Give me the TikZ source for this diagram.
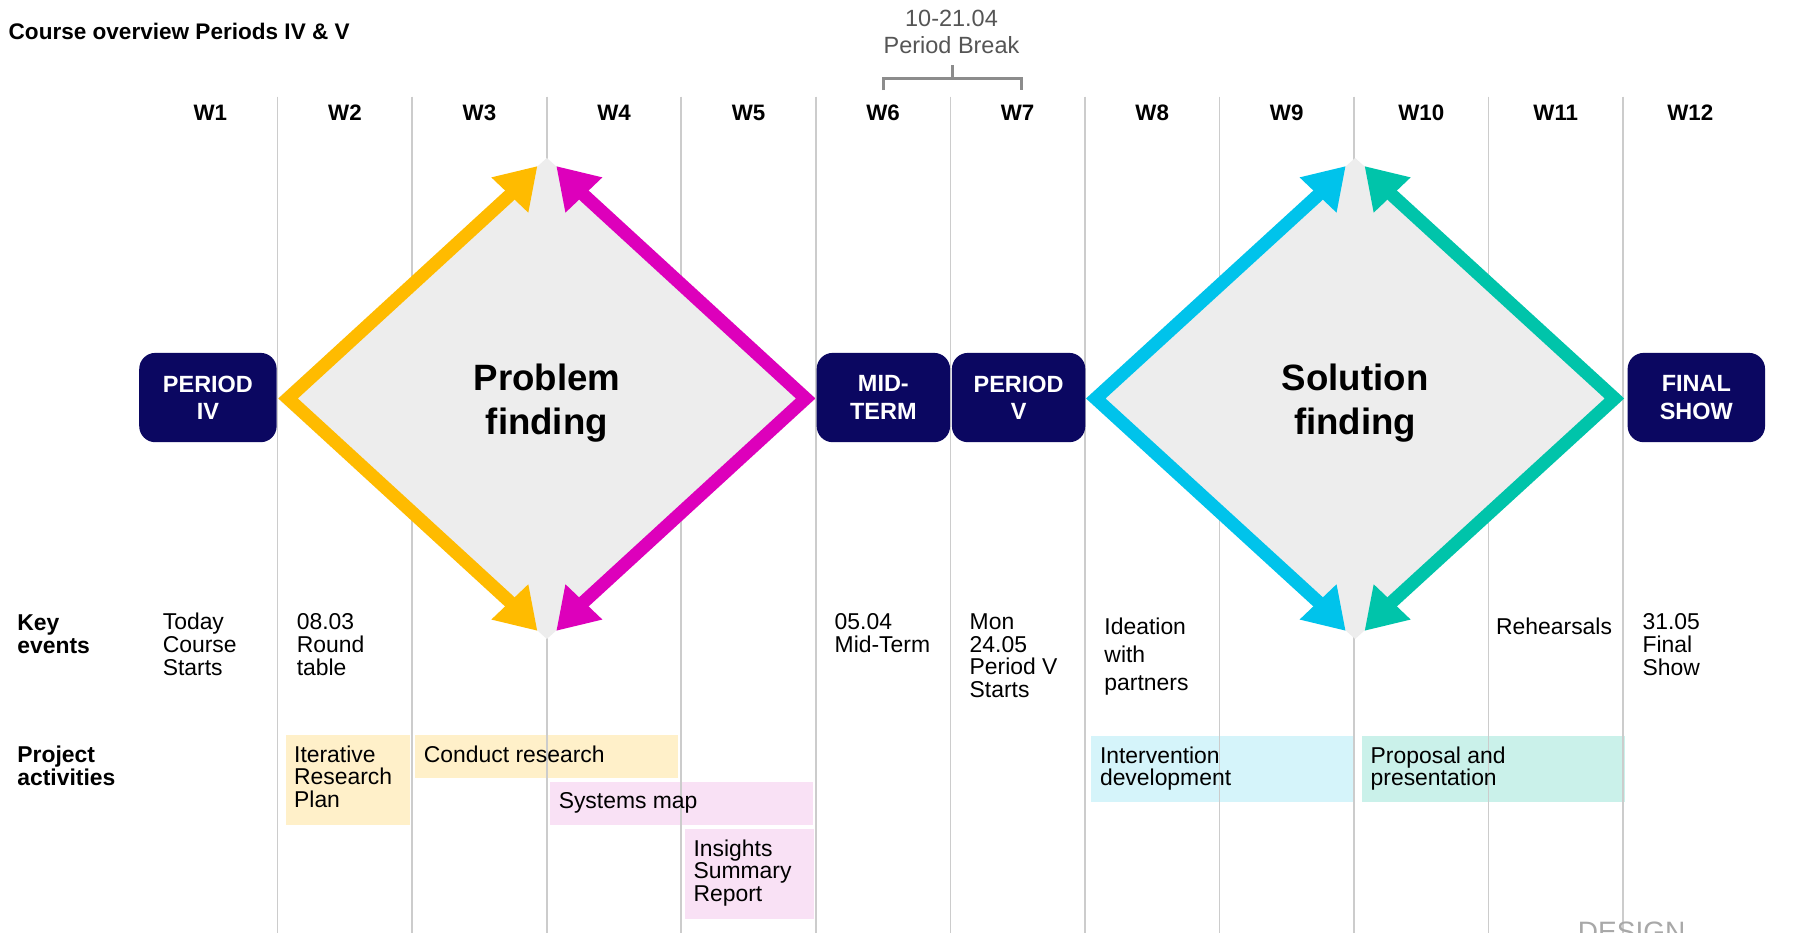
\documentclass[tikz,border=0pt]{standalone}
\usepackage{fontspec}
\setmainfont{Liberation Sans}
\usetikzlibrary{arrows.meta,calc}
\definecolor{navy}{HTML}{0B0761}
\definecolor{gridgray}{HTML}{CCCCCC}
\definecolor{diamondgray}{HTML}{EDEDED}
\definecolor{ayellow}{HTML}{FFBB00}
\definecolor{amagenta}{HTML}{DD00BB}
\definecolor{acyan}{HTML}{00C3EB}
\definecolor{ateal}{HTML}{00C4AA}
\definecolor{byellow}{HTML}{FFF0C9}
\definecolor{bpink}{HTML}{F9E1F5}
\definecolor{bcyan}{HTML}{D5F4FA}
\definecolor{bteal}{HTML}{CAF1EA}
\definecolor{breakgray}{HTML}{555555}
\definecolor{bracketgray}{HTML}{8C8C8C}
\definecolor{designgray}{HTML}{A8A8A8}
\tikzset{
  gridline/.style={draw=gridgray, line width=1.4pt},
  wlabel/.style={font=\bfseries\fontsize{19.5}{22}\selectfont, anchor=base, inner sep=0pt},
  periodbox/.style={fill=navy, rounded corners=14pt, text=white, align=center,
    font=\bfseries\fontsize{20.5}{24}\selectfont, minimum height=78pt, inner sep=0pt},
  phase/.style={font=\bfseries\fontsize{32}{38}\selectfont, align=center, inner sep=0pt},
  evtext/.style={font=\fontsize{20}{20}\selectfont, align=left, anchor=north west, inner sep=0pt},
  rowlabel/.style={font=\bfseries\fontsize{20}{19.5}\selectfont, align=left, anchor=north west, inner sep=0pt},
  actbox/.style={anchor=north west, inner sep=0pt, draw=none},
  acttext/.style={font=\fontsize{20}{19.7}\selectfont, align=left, anchor=north west, inner sep=0pt},
  shaft/.style={line width=11.5pt, line join=miter,
    {Triangle[length=35pt,width=42pt]}-{Triangle[length=35pt,width=42pt]}},
  bracket/.style={draw=bracketgray, line width=2.3pt},
}
\begin{document}
\begin{tikzpicture}[x=1pt,y=-1pt]
\fill[white] (0,0) rectangle (1570.3,814.8);
\useasboundingbox (0,0) rectangle (1570.3,814.8);

% activity boxes (behind grid)
\node[actbox, fill=byellow, minimum width=108.3pt, minimum height=78.5pt] (b1) at (249.2,642) {};
\node[actbox, fill=byellow, minimum width=229.6pt, minimum height=37.6pt] (b2) at (362.5,642) {};
\node[actbox, fill=bpink, minimum width=229.7pt, minimum height=37.5pt] (b3) at (480.3,683) {};
\node[actbox, fill=bpink, minimum width=113pt, minimum height=78.6pt] (b4) at (598,724) {};
\node[actbox, fill=bcyan, minimum width=230pt, minimum height=57.2pt] (b5) at (953,642.8) {};
\node[actbox, fill=bteal, minimum width=229.3pt, minimum height=57.2pt] (b6) at (1189.4,642.8) {};

% grid
\foreach \i in {0,...,10} {
  \draw[gridline] ({242.5+117.5*\i},84.4) -- ({242.5+117.5*\i},830);
}

% week labels
\foreach \k [count=\n] in {0,...,11} {
  \node[wlabel] (w\n) at ({183.75+117.5*\k},105.4) {W\n};
}

% title
\node[font=\bfseries\fontsize{19.7}{22}\selectfont, anchor=base west, inner sep=0pt] (title) at (7.4,34.4) {Course overview Periods IV \& V};

% period break
\node[font=\fontsize{20.5}{23.3}\selectfont, text=breakgray, align=center, anchor=north, inner sep=0pt] (pbreak) at (831,8.6) {10-21.04\\Period Break};
\coordinate (brstem) at (832,56.8);
\coordinate (brmid) at (832,68.7);
\coordinate (brL) at (771.5,78.6);
\coordinate (brR) at (892.3,78.6);
\draw[bracket] (brL) |- (brmid) -| (brR);
\draw[bracket] (brmid) -- (brstem);

% diamonds
\coordinate (d1c) at (477.6,348);
\coordinate (d2c) at (1183.5,348);
\foreach \d in {d1c,d2c} {
  \fill[diamondgray] ($(\d)+(-235,0)$) -- ($(\d)+(0,-210)$) -- ($(\d)+(235,0)$) -- ($(\d)+(0,210)$) -- cycle;
}
% diamond 1 arrows
\coordinate (d1vl) at ($(d1c)+(-226,0)$);
\coordinate (d1vr) at ($(d1c)+(226,0)$);
\draw[shaft, draw=ayellow] ($(d1c)+(-8.2,-203)$) -- ($(d1c)+(-33,-177)$) -- (d1vl) -- ($(d1c)+(-33,177)$) -- ($(d1c)+(-8.2,203)$);
\draw[shaft, draw=amagenta] ($(d1c)+(8.2,-203)$) -- ($(d1c)+(33,-177)$) -- (d1vr) -- ($(d1c)+(33,177)$) -- ($(d1c)+(8.2,203)$);
% diamond 2 arrows
\coordinate (d2vl) at ($(d2c)+(-226.5,0)$);
\coordinate (d2vr) at ($(d2c)+(226.5,0)$);
\draw[shaft, draw=acyan] ($(d2c)+(-8.2,-203)$) -- ($(d2c)+(-33,-177)$) -- (d2vl) -- ($(d2c)+(-33,177)$) -- ($(d2c)+(-8.2,203)$);
\draw[shaft, draw=ateal] ($(d2c)+(8.2,-203)$) -- ($(d2c)+(33,-177)$) -- (d2vr) -- ($(d2c)+(33,177)$) -- ($(d2c)+(8.2,203)$);

\node[phase] (pf) at ($(d1c)+(0,4)$) {Problem\\finding};
\node[phase] (sf) at ($(d2c)+(0,4)$) {Solution\\finding};

% period boxes
\node[periodbox, minimum width=120pt] (p4) at (181.6,347.2) {PERIOD\\IV};
\node[periodbox, minimum width=116.5pt] (mid) at (771.5,347.2) {MID-\\TERM};
\node[periodbox, minimum width=116.5pt] (p5) at (889.6,347.2) {PERIOD\\V};
\node[periodbox, minimum width=120pt] (fin) at (1481.5,347.2) {FINAL\\SHOW};

% key events
\node[rowlabel, font=\bfseries\fontsize{20}{20}\selectfont] (keyev) at (15,536.5) {Key\\events};
\node[evtext] (ev1) at (142,535.5) {Today\\Course\\Starts};
\node[evtext] (ev2) at (259,535.5) {08.03\\Round\\table};
\node[evtext] (ev3) at (728.8,535.5) {05.04\\Mid-Term};
\node[evtext] (ev4) at (846.7,535.5) {Mon\\24.05\\Period V\\Starts};
\node[evtext, font=\fontsize{20}{24.6}\selectfont] (ev5) at (964.4,539.5) {Ideation\\with\\partners};
\node[evtext] (ev6) at (1306.5,539.5) {Rehearsals};
\node[evtext] (ev7) at (1434.4,535.5) {31.05\\Final\\Show};

% project activities
\node[rowlabel] (projact) at (15,651.5) {Project\\activities};
\node[acttext] (t1) at ($(b1.north west)+(7.5,9)$) {Iterative\\Research\\Plan};
\node[acttext] (t2) at ($(b2.north west)+(7.5,9)$) {Conduct research};
\node[acttext] (t3) at ($(b3.north west)+(7.5,9)$) {Systems map};
\node[acttext] (t4) at ($(b4.north west)+(7.5,9)$) {Insights\\Summary\\Report};
\node[acttext] (t5) at ($(b5.north west)+(7.5,9)$) {Intervention\\development};
\node[acttext] (t6) at ($(b6.north west)+(7.5,9)$) {Proposal and\\presentation};

% watermark fragment
\node[font=\fontsize{24.5}{26}\selectfont, text=designgray, anchor=north west, inner sep=0pt] (design) at (1377.8,805) {DESIGN};
\end{tikzpicture}
\end{document}
